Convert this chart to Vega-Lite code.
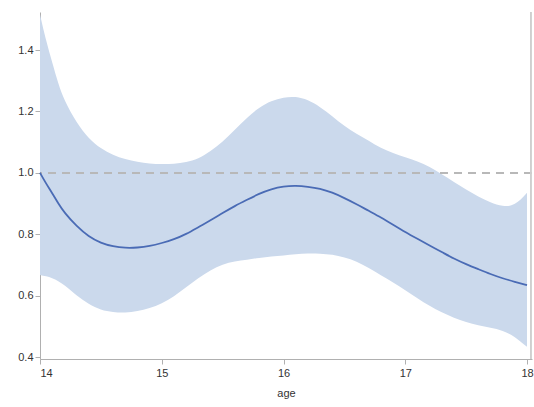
{
  "$schema": "https://vega.github.io/schema/vega-lite/v6.json",
  "autosize": "none",
  "width": 492,
  "height": 347,
  "padding": {"left": 40, "top": 12, "right": 2, "bottom": 48},
  "background": "white",
  "config": {
    "view": {"stroke": null},
    "axis": {
      "labelFont": "Liberation Sans",
      "titleFont": "Liberation Sans",
      "labelFontSize": 11,
      "titleFontSize": 11,
      "labelColor": "#333333",
      "titleColor": "#333333",
      "titleFontWeight": "normal",
      "domainColor": "#b0b0b0",
      "tickColor": "#b0b0b0",
      "grid": false
    }
  },
  "data": {
    "values": [
      {"age": 14.0, "lower": 0.667, "upper": 1.515, "est": 1.0},
      {"age": 14.05, "lower": 0.663, "upper": 1.43, "est": 0.965},
      {"age": 14.1, "lower": 0.657, "upper": 1.36, "est": 0.934},
      {"age": 14.15, "lower": 0.647, "upper": 1.29, "est": 0.9},
      {"age": 14.2, "lower": 0.635, "upper": 1.235, "est": 0.87},
      {"age": 14.3, "lower": 0.6, "upper": 1.163, "est": 0.826},
      {"age": 14.4, "lower": 0.572, "upper": 1.111, "est": 0.792},
      {"age": 14.5, "lower": 0.553, "upper": 1.079, "est": 0.771},
      {"age": 14.6, "lower": 0.546, "upper": 1.058, "est": 0.76},
      {"age": 14.7, "lower": 0.544, "upper": 1.044, "est": 0.755},
      {"age": 14.8, "lower": 0.549, "upper": 1.035, "est": 0.756},
      {"age": 14.9, "lower": 0.559, "upper": 1.03, "est": 0.761},
      {"age": 15.0, "lower": 0.574, "upper": 1.028, "est": 0.771},
      {"age": 15.1, "lower": 0.597, "upper": 1.029, "est": 0.783},
      {"age": 15.2, "lower": 0.627, "upper": 1.034, "est": 0.8},
      {"age": 15.3, "lower": 0.657, "upper": 1.045, "est": 0.823},
      {"age": 15.4, "lower": 0.683, "upper": 1.07, "est": 0.845},
      {"age": 15.5, "lower": 0.702, "upper": 1.1, "est": 0.869},
      {"age": 15.6, "lower": 0.712, "upper": 1.14, "est": 0.892},
      {"age": 15.7, "lower": 0.717, "upper": 1.18, "est": 0.912},
      {"age": 15.8, "lower": 0.723, "upper": 1.213, "est": 0.932},
      {"age": 15.9, "lower": 0.727, "upper": 1.235, "est": 0.947},
      {"age": 16.0, "lower": 0.731, "upper": 1.246, "est": 0.956},
      {"age": 16.1, "lower": 0.735, "upper": 1.249, "est": 0.958},
      {"age": 16.2, "lower": 0.738, "upper": 1.238, "est": 0.955},
      {"age": 16.3, "lower": 0.737, "upper": 1.215, "est": 0.949},
      {"age": 16.4, "lower": 0.734, "upper": 1.185, "est": 0.936},
      {"age": 16.5, "lower": 0.725, "upper": 1.152, "est": 0.918},
      {"age": 16.6, "lower": 0.712, "upper": 1.127, "est": 0.898},
      {"age": 16.7, "lower": 0.69, "upper": 1.105, "est": 0.876},
      {"age": 16.8, "lower": 0.666, "upper": 1.08, "est": 0.855},
      {"age": 16.9, "lower": 0.643, "upper": 1.064, "est": 0.831},
      {"age": 17.0, "lower": 0.618, "upper": 1.051, "est": 0.807},
      {"age": 17.1, "lower": 0.591, "upper": 1.038, "est": 0.785},
      {"age": 17.2, "lower": 0.566, "upper": 1.02, "est": 0.763},
      {"age": 17.3, "lower": 0.545, "upper": 0.995, "est": 0.742},
      {"age": 17.4, "lower": 0.527, "upper": 0.97, "est": 0.72},
      {"age": 17.5, "lower": 0.513, "upper": 0.945, "est": 0.702},
      {"age": 17.6, "lower": 0.503, "upper": 0.922, "est": 0.686},
      {"age": 17.7, "lower": 0.495, "upper": 0.903, "est": 0.67},
      {"age": 17.8, "lower": 0.487, "upper": 0.89, "est": 0.656},
      {"age": 17.9, "lower": 0.467, "upper": 0.892, "est": 0.645},
      {"age": 18.0, "lower": 0.433, "upper": 0.935, "est": 0.634}
    ]
  },
  "layer": [
    {
      "mark": {"type": "area", "color": "#cbd9ec", "opacity": 1, "interpolate": "basis"},
      "encoding": {
        "x": {
          "field": "age", "type": "quantitative",
          "scale": {"domain": [14, 18.041], "nice": false, "zero": false},
          "axis": {"values": [14, 15, 16, 17, 18], "format": "d", "title": "age", "tickSize": 5, "labelPadding": 3, "titlePadding": 9}
        },
        "y": {
          "field": "lower", "type": "quantitative",
          "scale": {"domain": [0.3935, 1.5238], "nice": false, "zero": false},
          "axis": {"values": [0.4, 0.6, 0.8, 1.0, 1.2, 1.4], "format": ".1f", "title": null, "tickSize": 5, "labelPadding": 2}
        },
        "y2": {"field": "upper"}
      }
    },
    {
      "mark": {"type": "rule", "color": "#b8b8b8", "strokeWidth": 1.5, "strokeDash": [8, 6]},
      "encoding": {"y": {"datum": 1.0}}
    },
    {
      "mark": {"type": "line", "color": "#4a6bb5", "strokeWidth": 1.8, "interpolate": "basis"},
      "encoding": {
        "x": {"field": "age", "type": "quantitative"},
        "y": {"field": "est", "type": "quantitative"}
      }
    },
    {
      "mark": {"type": "rule", "color": "#cfcfcf", "strokeWidth": 1},
      "encoding": {"x": {"datum": 18.03}}
    }
  ]
}
